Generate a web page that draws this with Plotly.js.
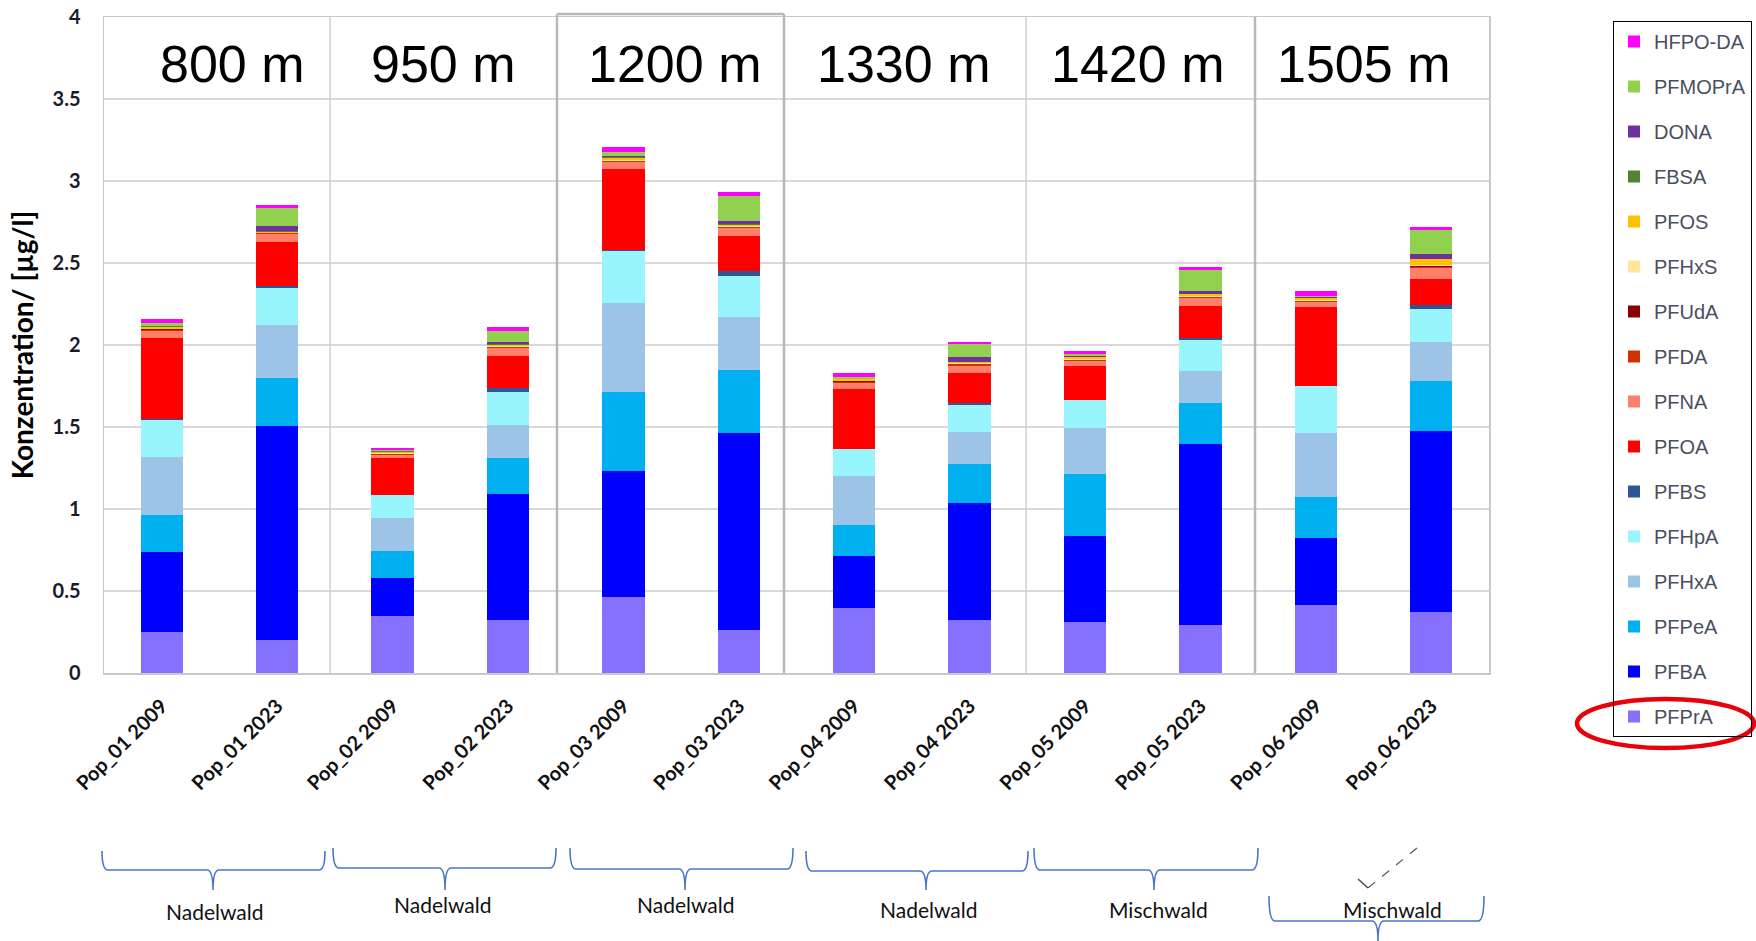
<!DOCTYPE html>
<html>
<head>
<meta charset="utf-8">
<script src="https://cdn.plot.ly/plotly-3.0.1.min.js"></script>
<style>html,body{margin:0;padding:0;background:#fff;}#chart{width:1756px;height:941px;}</style>
</head>
<body>
<div id="chart"></div>
<script>
const categories = ['Pop_01 2009','Pop_01 2023','Pop_02 2009','Pop_02 2023','Pop_03 2009','Pop_03 2023',
                    'Pop_04 2009','Pop_04 2023','Pop_05 2009','Pop_05 2023','Pop_06 2009','Pop_06 2023'];

const PFPrA   = [0.250, 0.200, 0.347, 0.321, 0.462, 0.260, 0.397, 0.321, 0.310, 0.292, 0.412, 0.375];
const PFBA    = [0.485, 1.305, 0.235, 0.769, 0.772, 1.206, 0.316, 0.715, 0.523, 1.102, 0.410, 1.102];
const PFPeA   = [0.229, 0.294, 0.164, 0.219, 0.482, 0.381, 0.190, 0.240, 0.382, 0.250, 0.251, 0.301];
const PFHxA   = [0.356, 0.320, 0.201, 0.205, 0.541, 0.321, 0.301, 0.196, 0.279, 0.197, 0.393, 0.239];
const PFHpA   = [0.222, 0.229, 0.137, 0.202, 0.314, 0.251, 0.159, 0.162, 0.168, 0.192, 0.283, 0.201];
const PFBS    = [0.005, 0.010, 0.000, 0.020, 0.010, 0.033, 0.000, 0.015, 0.000, 0.010, 0.000, 0.025];
const PFOA    = [0.495, 0.273, 0.229, 0.197, 0.492, 0.213, 0.371, 0.181, 0.207, 0.197, 0.480, 0.160];
const PFNA    = [0.046, 0.044, 0.017, 0.050, 0.044, 0.048, 0.037, 0.045, 0.033, 0.048, 0.033, 0.065];
const PFDA    = [0.005, 0.005, 0.005, 0.005, 0.005, 0.005, 0.005, 0.008, 0.005, 0.005, 0.005, 0.010];
const PFUdA   = [0.002, 0.002, 0.002, 0.002, 0.002, 0.002, 0.002, 0.002, 0.002, 0.002, 0.002, 0.003];
const PFHxS   = [0.004, 0.003, 0.003, 0.004, 0.004, 0.004, 0.003, 0.003, 0.003, 0.004, 0.004, 0.005];
const PFOS    = [0.012, 0.007, 0.010, 0.008, 0.015, 0.008, 0.010, 0.007, 0.012, 0.010, 0.012, 0.037];
const FBSA    = [0.003, 0.003, 0.002, 0.003, 0.003, 0.003, 0.002, 0.003, 0.004, 0.003, 0.003, 0.003];
const DONA    = [0.003, 0.028, 0.002, 0.015, 0.005, 0.020, 0.002, 0.030, 0.003, 0.020, 0.003, 0.026];
const PFMOPrA = [0.020, 0.113, 0.005, 0.068, 0.025, 0.153, 0.008, 0.076, 0.015, 0.124, 0.010, 0.148];
const HFPO_DA = [0.020, 0.020, 0.015, 0.020, 0.030, 0.022, 0.024, 0.013, 0.020, 0.020, 0.026, 0.022];

const seriesNames  = ['PFPrA','PFBA','PFPeA','PFHxA','PFHpA','PFBS','PFOA','PFNA','PFDA','PFUdA','PFHxS','PFOS','FBSA','DONA','PFMOPrA','HFPO-DA'];
const seriesValues = [PFPrA, PFBA, PFPeA, PFHxA, PFHpA, PFBS, PFOA, PFNA, PFDA, PFUdA, PFHxS, PFOS, FBSA, DONA, PFMOPrA, HFPO_DA];
const seriesColors = ['#8571fd','#0000ff','#00b0f0','#9dc3e6','#99f5fd','#2f5597','#ff0000','#ff7f6a','#cc3300','#8b0000','#ffe699','#ffc000','#548235','#7030a0','#92d050','#ff00ff'];

const sectionLabels = ['800 m','950 m','1200 m','1330 m','1420 m','1505 m'];
const forestLabels  = ['Nadelwald','Nadelwald','Nadelwald','Nadelwald','Mischwald','Mischwald'];

// pixel -> paper helpers (plot area: x 104..1489, y 17..673)
const L = 104, R = 1489, T = 17, B = 673;
const PX = x => (x - L) / (R - L);
const PY = y => (B - y) / (B - T);

const traces = seriesNames.map((n, i) => ({
  type: 'bar', name: n, x: categories, y: seriesValues[i],
  marker: {color: seriesColors[i], line: {width: 0}},
  legendgroup: n, legendrank: 100 - i, hoverinfo: 'name+y'
}));

const shapes = [];
// section separators
const seps = [[330,'#cfcfcf',1.5,17],[557,'#b8b8b8',2.5,14],[784,'#b8b8b8',2.5,14],[1026,'#cfcfcf',1.5,17],[1255,'#b8b8b8',2.5,17]];
seps.forEach(s => shapes.push({type:'line', xref:'paper', yref:'paper', x0:PX(s[0]), x1:PX(s[0]), y0:PY(673), y1:PY(s[3]), line:{color:s[1], width:s[2]}}));
shapes.push({type:'line', xref:'paper', yref:'paper', x0:PX(557), x1:PX(784), y0:PY(14), y1:PY(14), line:{color:'#b8b8b8', width:2.5}});

// braces
function bracePath(x0, x1, yTop, yLine, xm, yTip) {
  const p = (x, y) => PX(x) + ',' + PY(y);
  return 'M' + p(x0, yTop) + ' Q' + p(x0, yLine) + ' ' + p(x0 + 6, yLine) +
         ' L' + p(xm - 6, yLine) + ' Q' + p(xm, yLine) + ' ' + p(xm, yTip) +
         ' Q' + p(xm, yLine) + ' ' + p(xm + 6, yLine) +
         ' L' + p(x1 - 6, yLine) + ' Q' + p(x1, yLine) + ' ' + p(x1, yTop);
}
const braces = [[102,325,851,870,213,890],[333,556,848,868,445,890],[570,793,848,869,685,890],
                [806,1028,851,871,926,890],[1034,1258,848,870,1154,890],[1269,1484,896,921,1378,941]];
braces.forEach(b => shapes.push({type:'path', xref:'paper', yref:'paper', path: bracePath(...b), line:{color:'#4a76c6', width:1.6}}));

// dashed pointer arrow
shapes.push({type:'line', xref:'paper', yref:'paper', x0:PX(1417), y0:PY(848), x1:PX(1368), y1:PY(888), line:{color:'#555', width:1.2, dash:'dash'}});
shapes.push({type:'line', xref:'paper', yref:'paper', x0:PX(1368), y0:PY(888), x1:PX(1358), y1:PY(879), line:{color:'#444', width:1.4}});

// red ellipse around PFPrA legend entry
shapes.push({type:'circle', xref:'paper', yref:'paper', x0:PX(1577), x1:PX(1754), y0:PY(748), y1:PY(699), line:{color:'#e8000b', width:4.5}});

const annotations = [];
const secX = [232, 443, 674, 903, 1137, 1363];
sectionLabels.forEach((t, i) => annotations.push({xref:'paper', yref:'paper', x:PX(secX[i]), y:PY(64), text:t, showarrow:false,
  xanchor:'center', yanchor:'middle', font:{family:'Liberation Sans, Arial, sans-serif', size:52, color:'#000'}}));
const forPos = [[214,911],[442,905],[685,905],[928,909],[1158,909],[1392,909]];
forestLabels.forEach((t, i) => annotations.push({xref:'paper', yref:'paper', x:PX(forPos[i][0]), y:PY(forPos[i][1]), text:t, showarrow:false,
  xanchor:'center', yanchor:'middle', font:{family:'Lato, sans-serif', size:21, color:'#111'}}));

const layout = {
  width: 1756, height: 941,
  margin: {l: L, r: 1756 - R, t: T, b: 941 - B, autoexpand: false},
  paper_bgcolor: '#fff', plot_bgcolor: '#fff',
  barmode: 'stack', bargap: 0.633,
  showlegend: true,
  legend: {x: PX(1613), y: PY(21), xanchor: 'left', yanchor: 'top',
           traceorder: 'grouped', tracegroupgap: 16, maxheight: 900,
           bordercolor: '#000', borderwidth: 1, bgcolor: 'rgba(255,255,255,0)',
           font: {family: 'Liberation Sans, Arial, sans-serif', size: 20, color: '#4a4f5e'}},
  xaxis: {type: 'category', categoryorder: 'array', categoryarray: categories, range: [-0.5, 11.5],
          showgrid: false, showline: true, linecolor: '#c8c8c8', linewidth: 1.5, mirror: true,
          ticks: '', tickangle: -45, ticklabelstandoff: 12,
          tickfont: {family: 'Lato, sans-serif', size: 20, color: '#111', weight: 'bold'}},
  yaxis: {range: [0, 4], dtick: 0.5, tick0: 0, showgrid: true, gridcolor: '#d9d9d9', gridwidth: 1.5,
          zeroline: false, showline: true, linecolor: '#c8c8c8', linewidth: 1.5, mirror: true,
          ticks: '', ticklabelstandoff: 18,
          tickfont: {family: 'Lato, sans-serif', size: 20, color: '#1a1a2a', weight: 'bold'},
          title: {text: 'Konzentration/ [µg/l]', standoff: 10,
                  font: {family: 'Lato, sans-serif', size: 28, color: '#000', weight: 'bold'}}},
  shapes: shapes,
  annotations: annotations
};

Plotly.newPlot('chart', traces, layout, {displayModeBar: false, staticPlot: true});
</script>
</body>
</html>
